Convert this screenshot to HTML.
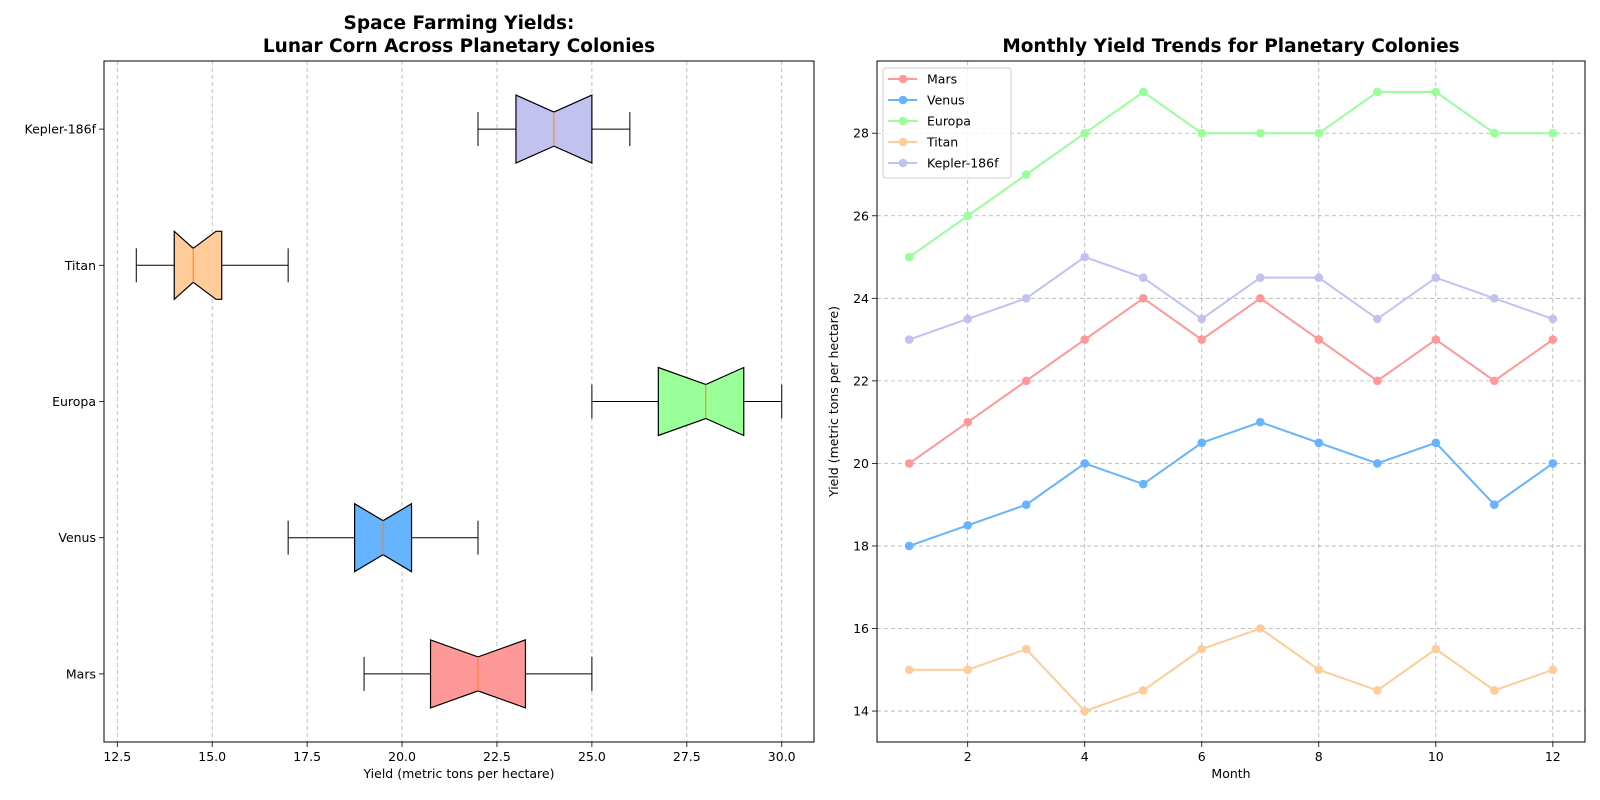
<!DOCTYPE html>
<html><head><meta charset="utf-8"><style>
body{margin:0;background:#fff}
svg{display:block;font-family:"DejaVu Sans","Liberation Sans",sans-serif}
</style></head><body>
<svg id="fig" width="1600" height="800" viewBox="0 0 1600 800">
<rect width="1600" height="800" fill="#fff"/>
<g id="left"></g>
<g id="right"></g>
</svg>
<script>
const colonies = ["Mars","Venus","Europa","Titan","Kepler-186f"];
const colors = ["#ff9999","#66b3ff","#99ff99","#ffcc99","#c2c2f0"];
const whiskLo = [19,17,25,13,22];
const whiskHi = [25,22,30,17,26];
const q1s = [20.75,18.75,26.75,14,23];
const q3s = [23.25,20.25,29,15.25,25];
const medians = [22,19.5,28,14.5,24];
const ciLo = [20.75,18.75,26.75,14,23];
const ciHi = [23.25,20.25,29,15.1,25];
const xTicksL = [12.5,15.0,17.5,20.0,22.5,25.0,27.5,30.0];

const months = [1,2,3,4,5,6,7,8,9,10,11,12];
const mars = [20,21,22,23,24,23,24,23,22,23,22,23];
const venus = [18,18.5,19,20,19.5,20.5,21,20.5,20,20.5,19,20];
const europa = [25,26,27,28,29,28,28,28,29,29,28,28];
const titan = [15,15,15.5,14,14.5,15.5,16,15,14.5,15.5,14.5,15];
const kepler = [23,23.5,24,25,24.5,23.5,24.5,24.5,23.5,24.5,24,23.5];
const xTicksR = [2,4,6,8,10,12];
const yTicksR = [14,16,18,20,22,24,26,28];

const NS="http://www.w3.org/2000/svg";
function mk(parent,tag,attrs,text){const e=document.createElementNS(NS,tag);for(const k in attrs)e.setAttribute(k,attrs[k]);if(text!==undefined)e.textContent=text;parent.appendChild(e);return e;}

// LEFT
const L={x0:104,x1:814,y0:61,y1:742};
const lx=v=>L.x0+(v-12.15)/(30.85-12.15)*(L.x1-L.x0);
const ly=c=>L.y1-(c-0.5)/5*(L.y1-L.y0);
const gl=document.getElementById('left');
xTicksL.forEach(t=>{
  const g=mk(gl,'line',{x1:lx(t),x2:lx(t),y1:L.y0,y2:L.y1,stroke:'#b0b0b0','stroke-dasharray':'4,3','stroke-width':0.8});
  
  
  mk(gl,'line',{x1:lx(t),x2:lx(t),y1:L.y1,y2:L.y1+5,stroke:'#000','stroke-width':0.8});
  const tl=mk(gl,'text',{x:lx(t),y:L.y1+19,'font-size':12.5,'text-anchor':'middle'},t.toFixed(1));
  
  
});
const bh=34, nh=17, ch=17;
colonies.forEach((c,i)=>{
  const y=ly(i+1);
  const g=mk(gl,'g',{});
  
  
  mk(g,'line',{x1:lx(whiskLo[i]),x2:lx(q1s[i]),y1:y,y2:y,stroke:'#000','stroke-width':1});
  mk(g,'line',{x1:lx(q3s[i]),x2:lx(whiskHi[i]),y1:y,y2:y,stroke:'#000','stroke-width':1});
  mk(g,'line',{x1:lx(whiskLo[i]),x2:lx(whiskLo[i]),y1:y-ch,y2:y+ch,stroke:'#000','stroke-width':1});
  mk(g,'line',{x1:lx(whiskHi[i]),x2:lx(whiskHi[i]),y1:y-ch,y2:y+ch,stroke:'#000','stroke-width':1});
  const pts=[[q1s[i],y-bh],[ciLo[i],y-bh],[medians[i],y-nh],[ciHi[i],y-bh],[q3s[i],y-bh],[q3s[i],y+bh],[ciHi[i],y+bh],[medians[i],y+nh],[ciLo[i],y+bh],[q1s[i],y+bh]];
  mk(g,'polygon',{points:pts.map(p=>lx(p[0])+','+p[1]).join(' '),fill:colors[i],stroke:'#000','stroke-width':1.2});
  mk(g,'line',{x1:lx(medians[i]),x2:lx(medians[i]),y1:y-nh,y2:y+nh,stroke:'#ff7f0e','stroke-width':1});
  mk(gl,'line',{x1:L.x0-5,x2:L.x0,y1:y,y2:y,stroke:'#000','stroke-width':0.8});
  const tl=mk(gl,'text',{x:L.x0-8,y:y+4.5,'font-size':12.5,'text-anchor':'end'},c);
  
  
});
mk(gl,'rect',{x:L.x0,y:L.y0,width:L.x1-L.x0,height:L.y1-L.y0,fill:'none',stroke:'#000','stroke-width':1});
let t=mk(gl,'text',{x:(L.x0+L.x1)/2,y:L.y1+36,'font-size':12.5,'text-anchor':'middle'},'Yield (metric tons per hectare)');

t=mk(gl,'text',{x:(L.x0+L.x1)/2,y:29,'font-size':18.5,'font-weight':'bold','text-anchor':'middle'},'Space Farming Yields:');

t=mk(gl,'text',{x:(L.x0+L.x1)/2,y:52,'font-size':18.5,'font-weight':'bold','text-anchor':'middle'},'Lunar Corn Across Planetary Colonies');


// RIGHT
const R={x0:877,x1:1585,y0:61,y1:742};
const rx=v=>R.x0+(v-0.45)/(12.55-0.45)*(R.x1-R.x0);
const ry=v=>R.y1-(v-13.25)/(29.75-13.25)*(R.y1-R.y0);
const gr=document.getElementById('right');
xTicksR.forEach(v=>{
  const g=mk(gr,'line',{x1:rx(v),x2:rx(v),y1:R.y0,y2:R.y1,stroke:'#b0b0b0','stroke-dasharray':'4,3','stroke-width':0.8});
  
  mk(gr,'line',{x1:rx(v),x2:rx(v),y1:R.y1,y2:R.y1+5,stroke:'#000','stroke-width':0.8});
  const tl=mk(gr,'text',{x:rx(v),y:R.y1+19,'font-size':12.5,'text-anchor':'middle'},String(v));
  
});
yTicksR.forEach(v=>{
  const g=mk(gr,'line',{x1:R.x0,x2:R.x1,y1:ry(v),y2:ry(v),stroke:'#b0b0b0','stroke-dasharray':'4,3','stroke-width':0.8});
  
  mk(gr,'line',{x1:R.x0-5,x2:R.x0,y1:ry(v),y2:ry(v),stroke:'#000','stroke-width':0.8});
  const tl=mk(gr,'text',{x:R.x0-8,y:ry(v)+4.5,'font-size':12.5,'text-anchor':'end'},String(v));
  
});
const series=[mars,venus,europa,titan,kepler];
series.forEach((s,i)=>{
  const g=mk(gr,'g',{});
  
  
  mk(g,'polyline',{points:s.map((v,j)=>rx(months[j])+','+ry(v)).join(' '),fill:'none',stroke:colors[i],'stroke-width':2});
  s.forEach((v,j)=>{
    const p=mk(g,'circle',{cx:rx(months[j]),cy:ry(v),r:4.3,fill:colors[i]});
    
    
  });
});
mk(gr,'rect',{x:R.x0,y:R.y0,width:R.x1-R.x0,height:R.y1-R.y0,fill:'none',stroke:'#000','stroke-width':1});
t=mk(gr,'text',{x:(R.x0+R.x1)/2,y:R.y1+36,'font-size':12.5,'text-anchor':'middle'},'Month');

t=mk(gr,'text',{x:0,y:0,'font-size':12.5,'text-anchor':'middle',transform:'translate(838,'+((R.y0+R.y1)/2)+') rotate(-90)'},'Yield (metric tons per hectare)');

t=mk(gr,'text',{x:(R.x0+R.x1)/2,y:52,'font-size':18.5,'font-weight':'bold','text-anchor':'middle'},'Monthly Yield Trends for Planetary Colonies');

// legend
const lg=mk(gr,'g',{});


mk(lg,'rect',{x:R.x0+6,y:R.y0+7,width:128,height:110,rx:3,fill:'#fff','fill-opacity':0.8,stroke:'#ccc','stroke-width':1});
colonies.forEach((c,i)=>{
  const y=R.y0+18+i*21;
  const e=mk(lg,'g',{});
  
  
  mk(e,'line',{x1:R.x0+11,x2:R.x0+40,y1:y,y2:y,stroke:colors[i],'stroke-width':2});
  mk(e,'circle',{cx:R.x0+26,cy:y,r:4.3,fill:colors[i]});
  mk(e,'text',{x:R.x0+50,y:y+4.5,'font-size':12.5},c);
});
</script>
</body></html>
